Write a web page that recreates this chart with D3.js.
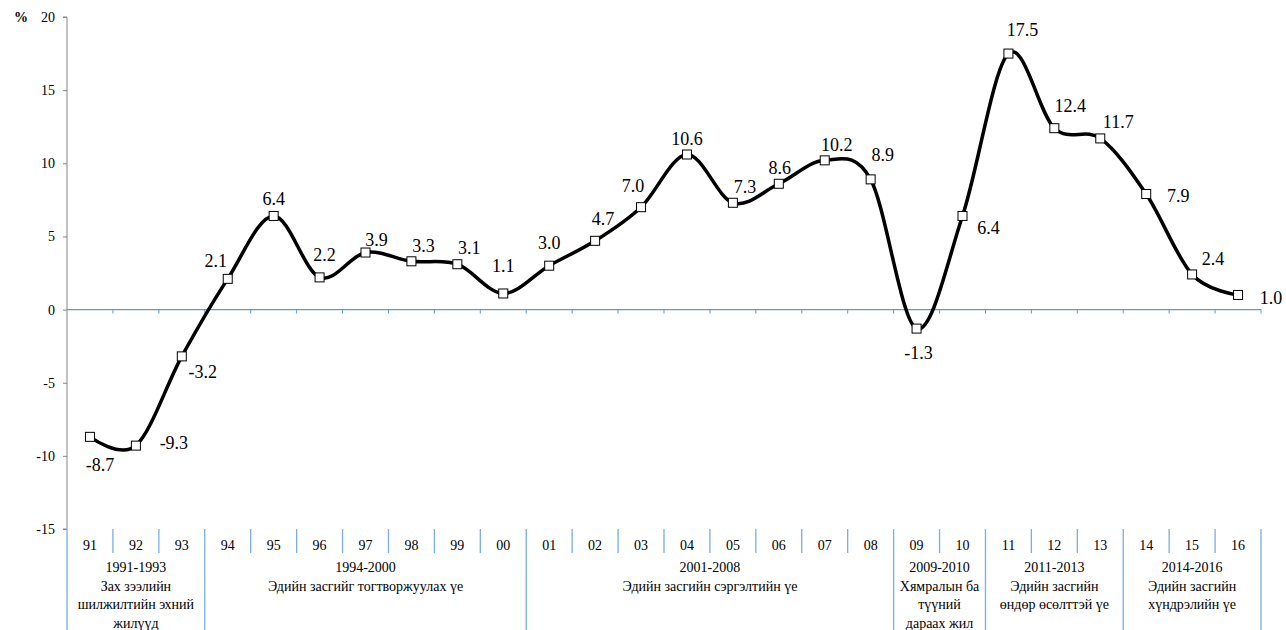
<!DOCTYPE html>
<html><head><meta charset="utf-8">
<script src="https://cdn.jsdelivr.net/npm/d3@7/dist/d3.min.js"></script>
<style>
body{margin:0;background:#fff;}
svg text{font-family:'Liberation Serif','Times New Roman','Tinos','DejaVu Serif',serif !important;}
</style></head>
<body><svg id="c" width="1286" height="630"></svg>
<script>
const categories = ["91","92","93","94","95","96","97","98","99","00","01","02","03","04","05","06","07","08","09","10","11","12","13","14","15","16"];
const values = [-8.7,-9.3,-3.2,2.1,6.4,2.2,3.9,3.3,3.1,1.1,3.0,4.7,7.0,10.6,7.3,8.6,10.2,8.9,-1.3,6.4,17.5,12.4,11.7,7.9,2.4,1.0];
const yTicks = [-15,-10,-5,0,5,10,15,20];
const groupStarts = [0,3,10,18,20,23];
const groupLabels = [
  ["1991-1993","Зах зээлийн","шилжилтийн эхний","жилүүд"],
  ["1994-2000","Эдийн засгийг тогтворжуулах үе"],
  ["2001-2008","Эдийн засгийн сэргэлтийн үе"],
  ["2009-2010","Хямралын ба","түүний","дараах жил"],
  ["2011-2013","Эдийн засгийн","өндөр өсөлттэй үе"],
  ["2014-2016","Эдийн засгийн","хүндрэлийн үе"]
];
const yUnit = "%";

// label nudges (layout only): [dx, dy baseline]
const nudge = [[10,34],[38,3],[21,22],[-12,-12],[0,-11],[5,-16],[11,-7],[12,-9],[12,-10],[0,-21],[0,-17],[8,-16],[-8,-15],[0,-10],[12,-10],[1,-10],[12,-9],[12,-18],[2,30],[26,18],[14,-18],[16,-16],[18,-10],[32,8],[21,-9],[33,9]];

const svg = d3.select("#c");
const x0 = 67, x1 = 1261, yTop = 17, yBot = 529;
const x = d3.scaleBand().domain(categories).range([x0,x1]).padding(0);
const y = d3.scaleLinear().domain([-15,20]).range([yBot,yTop]);
const cx = c => x(c) + x.bandwidth()/2;

// y axis
const yAxis = svg.append("g").attr("transform",`translate(${x0},0)`)
  .call(d3.axisLeft(y).tickValues(yTicks).tickSize(4).tickPadding(8).tickFormat(d=>String(d)));
yAxis.attr("font-family",null);
yAxis.select(".domain").attr("stroke","#868686").attr("d",`M-4,${yTop}H0V${yBot}H-4`);
yAxis.selectAll(".tick line").attr("stroke","#868686");
yAxis.selectAll(".tick text").attr("font-size",14).attr("fill","#000");
svg.append("text").attr("x",14).attr("y",yTop+5).attr("font-size",14).attr("font-weight","bold").text(yUnit);

// zero line with ticks
const blue = "#5b9bd5";
svg.append("line").attr("x1",x0).attr("x2",x1).attr("y1",y(0)).attr("y2",y(0)).attr("stroke",blue).attr("stroke-width",1.2);
const bounds = d3.range(categories.length+1).map(i => x0 + i*x.bandwidth());
svg.selectAll(".zt").data(bounds.slice(1)).enter().append("line")
  .attr("x1",d=>d).attr("x2",d=>d).attr("y1",y(0)).attr("y2",y(0)+4).attr("stroke",blue);

// category separators
const gb = groupStarts.concat([categories.length]);
svg.selectAll(".sep").data(d3.range(categories.length+1)).enter().append("line")
  .attr("x1",i=>bounds[i]).attr("x2",i=>bounds[i])
  .attr("y1",yBot).attr("y2",i=> gb.includes(i) ? 630 : 553)
  .attr("stroke","#79aedf").attr("stroke-width",1.3);

// category labels
svg.selectAll(".cl").data(categories).enter().append("text")
  .attr("x",d=>cx(d)).attr("y",550).attr("text-anchor","middle").attr("font-size",14).text(d=>d);

// group labels
groupLabels.forEach((lines,gi)=>{
  const mid = (bounds[gb[gi]] + bounds[gb[gi+1]])/2;
  lines.forEach((t,li)=>{
    svg.append("text").attr("x",mid).attr("y",572+li*18.6).attr("text-anchor","middle").attr("font-size",14).text(t);
  });
});

// line
const pts = categories.map((c,i)=>[cx(c), y(values[i])]);
svg.append("path").attr("d", d3.line().curve(d3.curveCardinal.tension(0))(pts))
  .attr("fill","none").attr("stroke","#000").attr("stroke-width",3.5).attr("stroke-linejoin","round");

// markers
svg.selectAll(".mk").data(pts).enter().append("rect")
  .attr("x",d=>d[0]-4.5).attr("y",d=>d[1]-4.5).attr("width",9).attr("height",9)
  .attr("fill","#fff").attr("stroke","#000").attr("stroke-width",1);

// data labels
svg.selectAll(".dl").data(values).enter().append("text")
  .attr("x",(d,i)=>pts[i][0]+nudge[i][0]).attr("y",(d,i)=>pts[i][1]+nudge[i][1])
  .attr("text-anchor","middle").attr("font-size",18).text(d=>d.toFixed(1));
</script></body></html>
